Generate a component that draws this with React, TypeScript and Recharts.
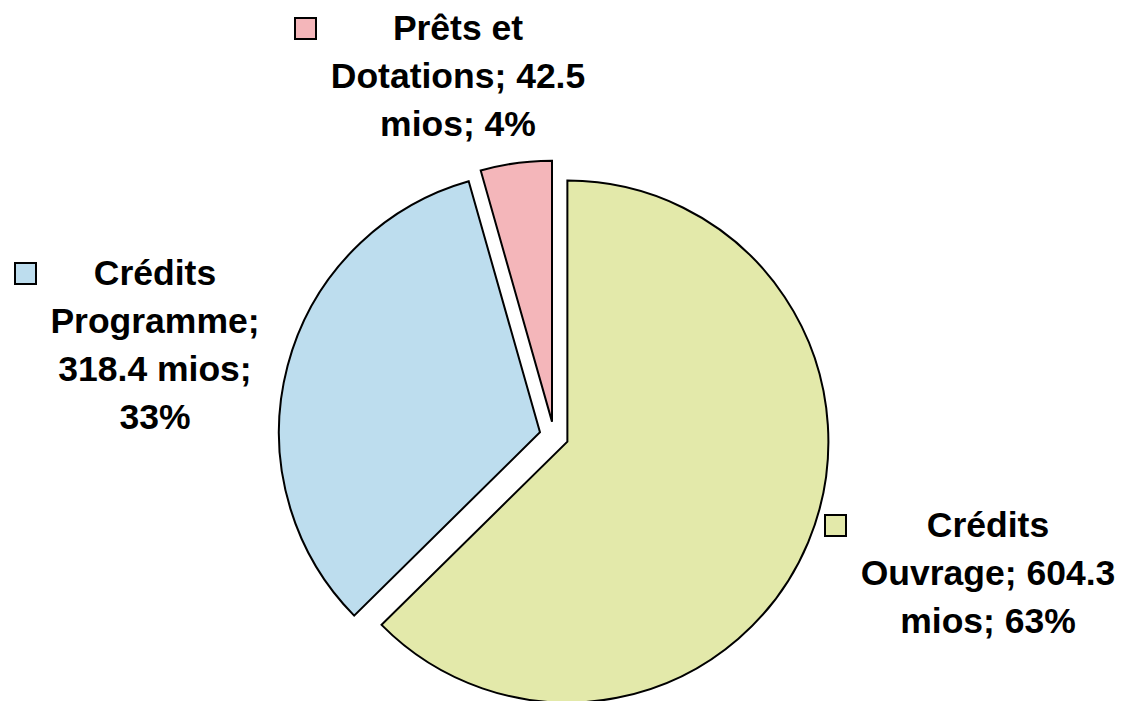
import React from 'react';
import { PieChart, Pie, Cell } from 'recharts';

const CATEGORIES = ['Crédits Ouvrage', 'Crédits Programme', 'Prêts et Dotations'];
const AMOUNTS = [604.3, 318.4, 42.5];
const UNIT = 'mios';
const COLORS = ['#E3E9AA', '#BDDDEE', '#F4B6BA'];

const W = 1126;
const H = 701;
const CX = 554;
const CY = 436;
const RADIUS = 261;
const EXPLODE = 14.5;

// label block: centre x, first baseline y, legend key x, wrap width (chars)
const LABEL_LAYOUT = [
  { x: 988, y: 537, keyX: 825, wrap: 14 },
  { x: 155, y: 285, keyX: 15, wrap: 14 },
  { x: 458, y: 40, keyX: 295, wrap: 15 },
];

const SLICES = CATEGORIES.map((name, i) => ({ name, value: AMOUNTS[i] }));
const TOTAL = AMOUNTS.reduce((a, b) => a + b, 0);

// exploded offset of each slice along its mid angle
const OFFSETS = (() => {
  let cum = 0;
  return AMOUNTS.map((v) => {
    const frac = v / TOTAL;
    const mid = ((90 - 360 * (cum + frac / 2)) * Math.PI) / 180;
    cum += frac;
    return { dx: Math.cos(mid) * EXPLODE, dy: -Math.sin(mid) * EXPLODE };
  });
})();

const wrap = (text: string, max: number) => {
  const lines: string[] = [];
  let cur = '';
  text.split(' ').forEach((w) => {
    if (cur && (cur + ' ' + w).length > max) {
      lines.push(cur);
      cur = w;
    } else {
      cur = cur ? cur + ' ' + w : w;
    }
  });
  if (cur) lines.push(cur);
  return lines;
};

const renderLabel = (props: any) => {
  const { index, value, percent } = props;
  const name = props.name ?? CATEGORIES[index];
  const lay = LABEL_LAYOUT[index];
  const lines = wrap(`${name}; ${Number(value).toFixed(1)} ${UNIT}; ${Math.round(percent * 100)}%`, lay.wrap);
  return (
    <g key={`lbl-${index}`}>
      <rect x={lay.keyX} y={lay.y - 22} width={21} height={21} fill={COLORS[index]} stroke="#000" strokeWidth={2} />
      <text
        textAnchor="middle"
        fontFamily="'Liberation Sans', Arial, sans-serif"
        fontWeight="bold"
        fontSize={35.5}
        fill="#000"
      >
        {lines.map((l, i) => (
          <tspan key={i} x={lay.x} y={lay.y + i * 48}>
            {l}
          </tspan>
        ))}
      </text>
    </g>
  );
};

const App: React.FC = () => {
  return (
    <div style={{ position: 'absolute', left: 0, top: 0, width: W, height: H, background: '#fff' }}>
      <PieChart width={W} height={H} margin={{ top: 0, right: 0, bottom: 0, left: 0 }}>
        {SLICES.map((_, k) => (
          <Pie
            key={`pie-${k}`}
            data={SLICES}
            dataKey="value"
            nameKey="name"
            cx={CX + OFFSETS[k].dx}
            cy={CY + OFFSETS[k].dy}
            outerRadius={RADIUS}
            startAngle={90}
            endAngle={-270}
            isAnimationActive={false}
            label={k === 0 ? renderLabel : false}
            labelLine={false}
          >
            {SLICES.map((s, i) => (
              <Cell
                key={`cell-${i}`}
                fill={i === k ? COLORS[i] : 'none'}
                stroke={i === k ? '#000' : 'none'}
                strokeWidth={2}
              />
            ))}
          </Pie>
        ))}
      </PieChart>
    </div>
  );
};

export default App;
